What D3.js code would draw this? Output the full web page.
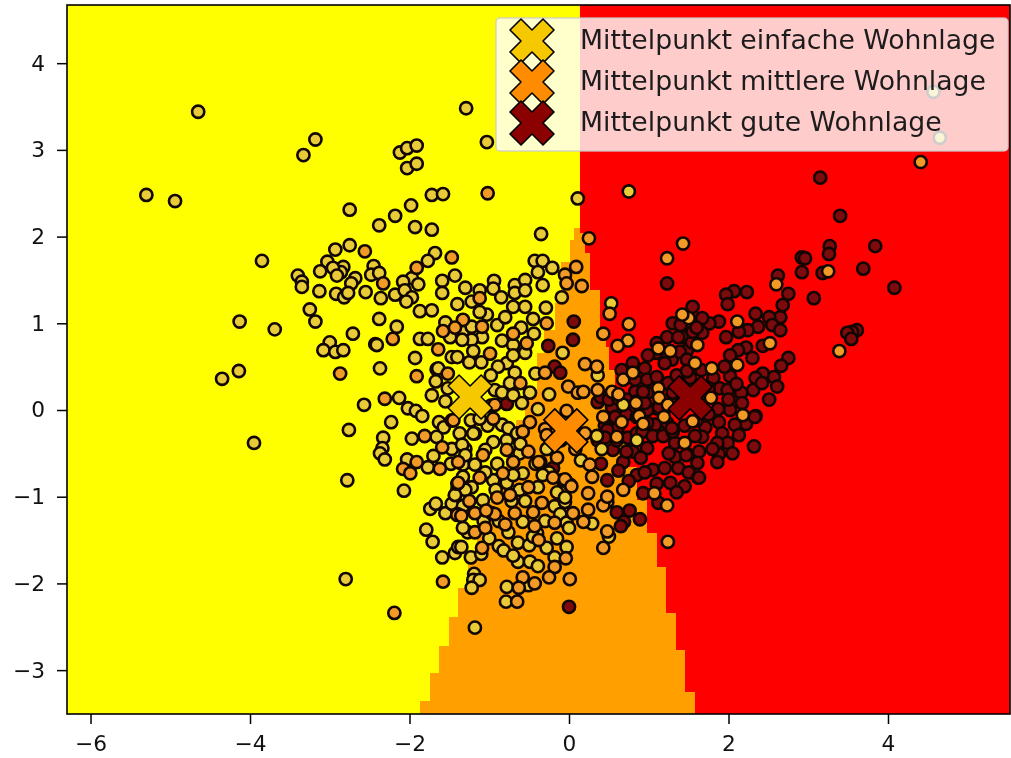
<!DOCTYPE html>
<html><head><meta charset="utf-8">
<script src="https://cdnjs.cloudflare.com/ajax/libs/d3/7.8.5/d3.min.js"></script>
<style>html,body{margin:0;padding:0;background:#fff}svg{display:block;filter:blur(0.5px)}text{font-family:"DejaVu Sans",sans-serif}</style>
</head><body><svg id="c" width="1011" height="758"></svg>
<script>
const xTicks=[-6,-4,-2,0,2,4];
const yTicks=[-3,-2,-1,0,1,2,3,4];
const xDomain=[-6.295,5.53];
const yDomain=[-3.506,4.671];
const legendLabels=["Mittelpunkt einfache Wohnlage","Mittelpunkt mittlere Wohnlage","Mittelpunkt gute Wohnlage"];
const classColors=["#e9cb38","#f29a26","#7d0a0c"];
const centerColors=["#f5c800","#ff8c00","#8b0000"];
const centers=[[-1.24,0.15],[-0.04,-0.24],[1.52,0.14]];
// decision regions: [upper y, lower y, boundary x]
const yellowRows=[[4.671,2.10,0.14],[2.10,1.96,0.06],[1.96,1.71,0.01],[1.71,1.23,-0.10],[1.23,0.92,-0.18],[0.92,0.66,-0.31],[0.66,0.21,-0.40],[0.21,-0.12,-0.55],[-0.12,-0.43,-0.66],[-0.43,-0.75,-0.79],[-0.75,-1.06,-0.92],[-1.06,-1.38,-1.03],[-1.38,-1.73,-1.15],[-1.73,-2.05,-1.27],[-2.05,-2.39,-1.39],[-2.39,-2.72,-1.50],[-2.72,-3.03,-1.63],[-3.03,-3.36,-1.74],[-3.36,-3.506,-1.87]];
const redRows=[[4.671,2.04,0.14],[2.04,1.81,0.20],[1.81,1.38,0.26],[1.38,0.96,0.39],[0.96,0.73,0.46],[0.73,0.46,0.50],[0.46,0.12,0.58],[0.12,-0.27,0.63],[-0.27,-0.66,0.74],[-0.66,-1.04,0.85],[-1.04,-1.42,0.98],[-1.42,-1.81,1.10],[-1.81,-2.34,1.22],[-2.34,-2.77,1.34],[-2.77,-3.25,1.45],[-3.25,-3.506,1.58]];
const lowPoints=[[-4.65,3.44],[-5.30,2.48],[-4.94,2.41],[-3.18,3.12],[-3.33,2.94],[-2.12,2.97],[-2.03,3.02],[-1.91,3.05],[-2.03,2.79],[-1.91,2.84],[-2.75,2.31],[-2.38,2.13],[-2.18,2.24],[-1.98,2.36],[-1.72,2.48],[-1.58,2.49],[-1.93,2.11],[-1.72,2.08],[-3.85,1.72],[-2.75,1.90],[-2.93,1.85],[-3.03,1.71],[-2.83,1.65],[-3.12,1.60],[-2.86,1.59],[-2.96,1.64],[-2.91,1.55],[-2.68,1.52],[-2.73,1.46],[-2.45,1.66],[-2.48,1.56],[-2.38,1.58],[-3.40,1.55],[-3.35,1.48],[-3.35,1.42],[-3.13,1.37],[-2.92,1.34],[-2.82,1.30],[-2.77,1.35],[-2.55,1.36],[-2.36,1.29],[-2.18,1.33],[-3.25,1.16],[-3.18,1.02],[-4.13,1.02],[-3.69,0.93],[-2.38,1.05],[-2.71,0.88],[-2.16,0.96],[-2.43,0.76],[-2.41,0.75],[-3.0,0.78],[-3.08,0.69],[-2.93,0.67],[-2.83,0.69],[-4.35,0.36],[-4.14,0.45],[-3.95,-0.38],[-2.37,0.48],[-1.93,0.60],[-1.66,0.47],[-1.67,0.33],[-1.72,0.17],[-1.52,0.25],[-2.57,0.06],[-2.13,0.14],[-2.02,0.02],[-1.92,-0.01],[-1.84,-0.07],[-2.23,-0.14],[-2.76,-0.23],[-2.33,-0.32],[-2.34,-0.44],[-2.37,-0.50],[-2.31,-0.57],[-1.97,-0.33],[-1.66,-0.31],[-1.63,-0.14],[-1.57,-0.20],[-1.47,-0.45],[-1.70,-0.53],[-2.03,-0.57],[-1.77,-0.66],[-2.07,-0.93],[-2.78,-0.81],[-1.74,-1.14],[-1.67,-1.08],[-1.55,-1.19],[-1.43,-0.99],[-1.47,-1.08],[-1.79,-1.38],[-1.71,-1.52],[-1.59,-1.70],[-1.43,-1.65],[-1.39,-1.58],[-2.80,-1.95],[-1.33,-1.11],[-0.18,-1.11],[-0.05,-1.06],[-0.11,-1.20],[0.29,-1.31],[-0.03,-1.30],[0,-1.36],[-0.58,-1.29],[-0.76,-1.41],[-1.07,-1.28],[-1.27,-1.41],[-1.33,-1.36],[-1.35,-1.58],[-1.23,-1.70],[-1.10,-1.66],[-0.88,-1.57],[-0.64,-1.53],[-0.50,-1.56],[-0.28,-1.59],[-0.03,-1.58],[-0.18,-1.70],[-0.64,-1.75],[-0.49,-1.75],[-0.39,-1.80],[-1.19,-1.89],[-1.20,-1.96],[-1.12,-1.96],[-1.22,-2.05],[-0.78,-2.04],[-0.51,-2.02],[-0.79,-2.21],[-1.18,-2.51],[0.50,-1.46],[0.48,-1.06],[-1.03,3.09],[-1.29,3.48],[0.11,2.44],[0.75,2.52],[-0.35,2.03],[-1.68,1.81],[-1.77,1.72],[-1.97,1.52],[-1.89,1.45],[-2.08,1.48],[-2.06,1.38],[-1.97,1.30],[-2.04,1.25],[-1.43,1.55],[-1.59,1.49],[-1.59,1.35],[-1.30,1.41],[-0.94,1.49],[-0.95,1.40],[-0.68,1.44],[-0.68,1.35],[-0.55,1.50],[-0.55,1.38],[-0.33,1.44],[-0.43,1.72],[-0.33,1.72],[-0.39,1.59],[-0.21,1.64],[-0.09,1.30],[0.53,1.23],[-0.29,1.18],[-0.08,0.66],[-1.22,1.25],[-1.12,1.38],[-1.03,1.10],[-1.12,1.13],[-0.90,0.98],[-0.80,1.07],[-0.70,1.19],[-0.55,1.19],[-1.87,1.14],[-1.72,1.15],[-1.55,1.01],[-1.33,0.90],[-1.22,0.96],[-1.09,0.84],[-1.22,0.81],[-1.34,0.81],[-1.49,0.84],[-1.87,0.82],[-1.77,0.82],[-1.47,0.61],[-1.40,0.61],[-1.64,0.48],[-0.44,0.88],[-0.84,0.80],[-0.70,0.75],[-0.78,0.54],[-0.70,0.63],[-0.55,0.66],[-0.89,0.50],[-0.68,0.43],[-0.74,0.31],[-0.93,0.23],[-0.84,0.20],[-0.70,0.17],[-0.49,0.20],[-0.59,0.08],[-0.39,0.01],[0.36,0.40],[0.68,0.06],[0.41,-0.45],[-0.78,-0.35],[-0.84,-0.17],[-0.76,-0.21],[-0.95,-0.37],[-1.05,-0.46],[-1.18,-0.27],[-1.23,-0.12],[-1.37,-0.27],[-0.65,-0.27],[-1.33,-0.63],[-1.18,-0.63],[-1.33,-0.77],[-1.22,-0.89],[-1.40,-0.92],[-0.78,-0.84],[-0.95,-0.81],[-0.58,-0.73],[-0.39,-0.89],[-1.08,-1.04],[-1.40,-1.20],[-0.97,-1.19],[0.01,-0.86],[-1.05,-0.72],[-0.90,-0.62],[-0.62,-0.92],[-0.28,-0.45],[-0.15,-0.95],[-0.30,-1.28],[-0.72,-1.05],[-0.88,-1.28],[-0.42,-0.62],[-1.02,-0.18],[-0.62,-0.50],[-0.25,-0.72],[-0.82,-1.62],[-0.70,-1.68],[-0.40,-1.42],[-0.15,-1.48],[-1.00,-1.48],[0.15,-0.58],[-0.10,-0.35],[-0.55,-1.05],[-0.92,-0.92],[0.35,-0.30],[-0.98,0.05],[-0.42,0.42],[-0.25,0.18],[-1.10,0.55],[-1.25,0.55],[-1.55,0.10],[-1.30,-0.45],[-1.48,-0.62],[-1.20,-0.27],[-1.34,-0.40],[-1.30,-0.52],[-0.61,-0.39],[-0.70,-0.75],[-1.30,-0.92],[-1.43,-0.98],[-0.33,-0.75],[-0.05,-1.01],[-0.45,-1.46],[0.85,-0.35],[-1.12,-0.10],[-0.98,0.40],[-1.20,0.68],[-0.60,0.95],[-0.85,1.30],[-1.40,1.22],[-0.45,1.05]];
const midPoints=[[-2.56,1.83],[-2.33,1.46],[-2.21,0.82],[-2.87,0.42],[-1.91,0.39],[-1.64,0.70],[-1.52,0.42],[-2.31,0.13],[-1.81,-0.30],[-1.47,-0.12],[-1.59,-0.43],[-1.91,-0.60],[-2.08,-0.68],[-1.99,-0.73],[-1.62,-0.68],[-1.40,-0.85],[-1.40,-1.21],[-1.58,-1.98],[-2.19,-2.34],[-1.35,-1.22],[-1.18,-1.19],[-0.93,-1.20],[-1.04,-1.16],[-0.68,-1.19],[-0.45,-1.18],[-0.34,-1.07],[0.05,-1.19],[0.24,-1.15],[0.18,-1.29],[-0.18,-1.30],[-0.43,-1.34],[-1.18,-1.41],[-1.05,-1.36],[-1.09,-1.59],[-0.04,-1.71],[-0.18,-1.81],[-0.25,-1.93],[-0.58,-1.93],[-0.43,-2.00],[0.01,-1.95],[-0.63,-2.05],[-0.65,-2.21],[0.43,-1.59],[0.48,-1.40],[1.24,-1.52],[1.23,-1.10],[0.43,-1.10],[-1.02,2.50],[0.25,1.98],[1.43,1.92],[1.23,1.75],[4.41,2.86],[3.25,1.60],[2.60,1.45],[3.39,0.68],[2.52,0.77],[2.11,0.52],[2.18,-0.06],[1.45,-0.38],[1.50,1.06],[2.11,1.02],[1.58,0.54],[1.79,0.48],[1.61,0.75],[-1.47,1.76],[-1.91,1.64],[-0.05,1.56],[0.09,1.65],[-0.03,1.46],[0.16,1.43],[0.51,1.11],[0.75,0.99],[-0.28,1.00],[0.43,0.88],[0.74,0.80],[0.61,0.74],[-1.12,1.29],[-1.33,1.04],[-1.58,0.91],[-1.43,0.95],[-1.09,0.96],[-0.70,0.88],[-0.53,0.77],[-0.99,0.65],[-0.61,0.31],[-0.93,0.06],[-0.30,0.43],[-0.01,0.27],[0.11,0.20],[0.20,0.53],[0.35,0.50],[0.18,0.21],[0.36,0.23],[0.54,0.21],[0.68,0.35],[0.62,0.18],[1.12,0.25],[1.12,0.71],[1.42,1.10],[0.43,-0.08],[1.19,-0.08],[0.20,-0.27],[-0.49,-0.14],[-0.03,-0.01],[-1.45,-0.12],[0.26,-0.63],[0.29,-0.77],[-0.36,-0.60],[-0.51,-0.48],[-0.70,-0.60],[-0.78,-0.46],[-1.12,-0.78],[-0.90,-1.01],[-0.74,-0.98],[-0.83,-0.73],[-0.51,-0.89],[-0.20,-0.78],[0.68,-0.92],[1.07,-0.96],[0.24,-0.96],[0.48,-1.00],[-0.30,-0.22],[-0.15,-0.55],[-0.58,-0.25],[-1.25,-1.05],[-0.95,-0.10],[0.08,-0.45],[-0.05,-0.80],[-0.38,-1.50],[-0.80,-1.32],[-1.08,-0.52],[-1.39,-0.60],[-0.38,-0.60],[-1.39,-0.84],[-0.28,-0.29],[0.03,-0.88],[0.84,0.08],[1.13,0.14],[1.27,0.68],[0.80,0.43],[0.88,-0.07],[0.93,-0.16],[0.66,-0.14],[0.60,-0.31],[1.24,0.06]];
const lateMidPoints=[[1.78,0.14],[1.55,-0.13]];
const goodPoints=[[0,-2.27],[0.60,-1.18],[0.76,-1.16],[0.69,-1.29],[0.89,-1.26],[0.65,-1.34],[1.12,-1.07],[3.15,2.68],[3.40,2.24],[3.27,1.89],[3.26,1.80],[3.84,1.89],[2.92,1.76],[2.96,1.75],[2.92,1.59],[3.18,1.58],[3.69,1.63],[4.08,1.41],[3.07,1.29],[2.62,1.55],[2.75,1.34],[2.68,1.21],[2.65,1.07],[2.23,1.36],[2.07,1.37],[1.97,1.33],[1.99,1.22],[2.34,1.11],[2.51,1.07],[2.55,0.98],[2.65,0.92],[2.37,0.96],[2.24,0.92],[2.13,0.90],[1.97,0.84],[1.88,1.02],[1.76,1.00],[1.67,0.89],[1.55,1.19],[1.67,1.06],[3.61,0.92],[3.55,0.90],[3.49,0.89],[3.54,0.82],[2.43,0.74],[2.22,0.72],[2.12,0.69],[2.02,0.63],[1.66,0.46],[1.81,0.37],[2.02,0.39],[1.52,0.37],[1.48,0.69],[1.43,0.84],[1.54,0.78],[2.75,0.60],[2.66,0.51],[2.57,0.38],[2.43,0.42],[2.34,0.37],[2.31,0.23],[2.61,0.27],[2.51,0.12],[2.42,0.31],[2.16,0.20],[1.89,0.25],[1.99,0.23],[2.17,0.08],[2.02,0],[1.87,0.01],[2.34,-0.07],[2.22,-0.16],[2.08,-0.17],[1.88,-0.14],[1.71,-0.20],[1.92,-0.27],[2.13,-0.29],[1.67,-0.31],[1.99,-0.38],[1.86,-0.38],[2.32,-0.42],[1.88,-0.51],[1.86,-0.60],[1.63,-0.48],[1.48,-0.51],[1.61,-0.61],[1.23,1.46],[0.06,1.02],[0.05,0.81],[-0.26,0.74],[-0.18,0.50],[-0.11,0.43],[-0.78,0.07],[0.80,0.54],[0.36,0.09],[0.54,0.03],[0.83,0.21],[0.98,0.20],[0.95,0.48],[1.10,0.66],[0.99,0.63],[1.23,0.84],[1.10,0.77],[1.37,0.84],[1.29,0.58],[1.20,0.54],[1.39,0.67],[1.48,0.58],[0.66,0.46],[0.83,0.35],[0.98,0.35],[1.10,0.38],[1.24,0.31],[0.51,-0.20],[0.61,-0.21],[0.74,-0.32],[0.85,-0.27],[1.10,0.02],[0.98,0],[1.08,-0.17],[1.23,-0.15],[0.98,-0.15],[0.36,-0.35],[0.55,-0.46],[0.68,-0.60],[0.80,-0.48],[0.98,-0.44],[1.33,-0.54],[1.33,-0.38],[1.05,-0.69],[1.20,-0.67],[1.37,-0.67],[1.27,-0.84],[0.85,-0.75],[0.48,-0.81],[0.93,-0.96],[-0.20,-0.67],[-0.08,-0.81],[0.40,0.15],[0.50,0.12],[0.62,0.13],[0.72,0.12],[0.85,0.10],[0.95,0.08],[1.25,0.05],[1.32,0.13],[1.42,0.10],[0.45,-0.18],[0.58,-0.08],[0.72,-0.05],[0.85,-0.08],[0.92,-0.25],[1.05,-0.30],[1.18,-0.30],[1.30,-0.25],[1.45,-0.18],[1.58,-0.30],[0.60,-0.35],[0.72,-0.48],[0.90,-0.55],[1.25,-0.50],[1.50,-0.72],[1.62,-0.78],[1.45,-0.88],[1.35,-0.95],[0.62,-0.70],[0.75,-0.82],[0.95,-0.72],[1.10,-0.85],[0.40,-0.62],[1.55,0.90],[1.30,1.00],[1.40,0.98],[1.60,0.95],[2.30,0.60],[1.95,0.50],[1.35,0.40],[1.48,0.45],[1.30,0.20],[1.75,0.25],[1.65,0.10],[1.75,-0.05],[1.60,-0.12],[2.0,0.12],[2.10,0.30],[1.80,-0.45],[2.05,-0.50],[1.29,-0.21],[1.13,0.03],[0.93,0.21],[0.48,-0.23],[0.45,-0.32],[1.47,-0.52],[2.33,-0.08],[1.63,-0.78]];
const hiddenPoints=[[4.57,3.67],[4.65,3.14]];

const L=67,R=1010,T=5,B=714;
const x=d3.scaleLinear().domain(xDomain).range([L,R]);
const y=d3.scaleLinear().domain(yDomain).range([B,T]);
const svg=d3.select("#c");
const clip=svg.append("defs").append("clipPath").attr("id","p");
clip.append("rect").attr("x",L).attr("y",T).attr("width",R-L).attr("height",B-T);
const plot=svg.append("g").attr("clip-path","url(#p)");
plot.append("rect").attr("x",L).attr("y",T).attr("width",R-L).attr("height",B-T).attr("fill","#ff9f00");
plot.append("g").attr("shape-rendering","crispEdges").selectAll("rect").data(yellowRows).join("rect")
 .attr("x",L).attr("y",d=>y(d[0])).attr("width",d=>x(d[2])-L).attr("height",d=>y(d[1])-y(d[0])).attr("fill","#ffff00");
plot.append("g").attr("shape-rendering","crispEdges").selectAll("rect").data(redRows).join("rect")
 .attr("x",d=>x(d[2])).attr("y",d=>y(d[0])).attr("width",d=>R-x(d[2])).attr("height",d=>y(d[1])-y(d[0])).attr("fill","#ff0000");
const cross=d3.symbol().type({draw(c,s){const a=s,b=s/2;c.moveTo(-b,-a);c.lineTo(0,-b);c.lineTo(b,-a);c.lineTo(a,-b);c.lineTo(b,0);c.lineTo(a,b);c.lineTo(b,a);c.lineTo(0,b);c.lineTo(-b,a);c.lineTo(-a,b);c.lineTo(-b,0);c.lineTo(-a,-b);c.closePath();}}).size(22);
function dots(data,color){plot.append("g").selectAll("circle").data(data).join("circle")
 .attr("cx",d=>x(d[0])).attr("cy",d=>y(d[1])).attr("r",6.1).attr("fill",color).attr("stroke","#120600").attr("stroke-width",2.6);}
dots(goodPoints,classColors[2]);
dots(lowPoints,classColors[0]);
dots(midPoints,classColors[1]);
dots(hiddenPoints,classColors[0]);
plot.selectAll("path.center").data(centers).join("path").attr("class","center").attr("d",cross)
 .attr("transform",d=>`translate(${x(d[0])},${y(d[1])})`).attr("fill",(d,i)=>centerColors[i]).attr("stroke","#000").attr("stroke-width",1.6).attr("stroke-linejoin","round");
dots(lateMidPoints,classColors[1]);
// frame and axes
const minus=d=>d3.format("d")(d).replace("-","\u2212");
const ax=svg.append("g").attr("transform",`translate(0,${B})`).call(d3.axisBottom(x).tickValues(xTicks).tickSize(10).tickPadding(12).tickFormat(minus));
const ay=svg.append("g").attr("transform",`translate(${L},0)`).call(d3.axisLeft(y).tickValues(yTicks).tickSize(10).tickPadding(12).tickFormat(minus));
[ax,ay].forEach(a=>{a.select(".domain").remove();a.selectAll("line").attr("stroke","#000").attr("stroke-width",1.5);a.selectAll("text").attr("font-size",21.7).attr("fill","#111").attr("font-family","DejaVu Sans");});
svg.append("rect").attr("x",L).attr("y",T).attr("width",R-L).attr("height",B-T).attr("fill","none").attr("stroke","#000").attr("stroke-width",1.6);
// legend
const lg=svg.append("g");
lg.append("rect").attr("x",496).attr("y",18).attr("width",512).attr("height",133).attr("rx",4).attr("fill","#fff").attr("fill-opacity",0.8).attr("stroke","#ccc").attr("stroke-opacity",0.8).attr("stroke-width",1.5);
const rows=lg.selectAll("g").data(legendLabels).join("g").attr("transform",(d,i)=>`translate(532,${41+i*41})`);
rows.append("path").attr("d",cross).attr("fill",(d,i)=>centerColors[i]).attr("stroke","#000").attr("stroke-width",1.6).attr("stroke-linejoin","round");
rows.append("text").attr("x",48).attr("y",8).attr("font-size",26.7).attr("fill","#1c1c1c").text(d=>d);
</script></body></html>
